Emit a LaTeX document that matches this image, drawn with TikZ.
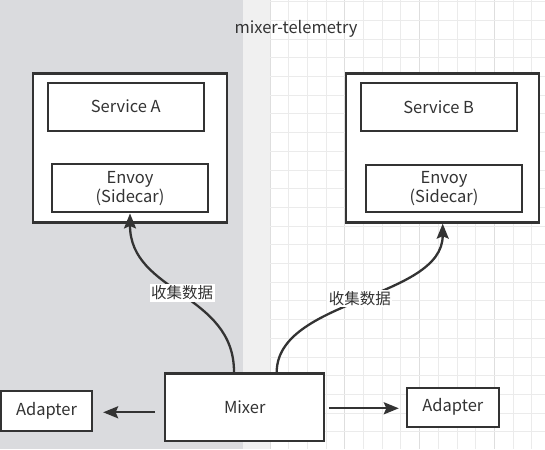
\documentclass[tikz,border=0pt]{standalone}
\usepackage{fontspec}
\setmainfont{Noto Sans CJK SC}
\usetikzlibrary{arrows.meta}
\definecolor{ink}{HTML}{333333}
\definecolor{grayzone}{HTML}{DADBDE}
\definecolor{strip}{HTML}{F0F0F0}
\definecolor{gridminor}{HTML}{EBEBEB}
\definecolor{gridmajor}{HTML}{DEDEDE}
\tikzset{
  box/.style={draw=ink, line width=2.3pt, fill=white, rectangle, inner sep=0pt, text=ink, font=\fontsize{16.5}{19}\selectfont, align=center},
  arr/.style={draw=ink, line width=2.3pt, -{Stealth[length=15pt,width=12pt,inset=2.5pt]}},
  lbl/.style={fill=white, text=ink, inner sep=1.5pt, font=\fontsize{15.5}{17}\selectfont}
}
\begin{document}
\begin{tikzpicture}[x=1pt,y=-1pt]
\useasboundingbox (0,0) rectangle (545,449);
% backgrounds
\fill[white] (0,0) rectangle (545,449);
\fill[grayzone] (0,0) rectangle (243,449);
\fill[strip] (243,0) rectangle (270,449);
\foreach \i in {0,...,15} {
  \pgfmathsetmacro{\gx}{270+18.7*\i}
  \pgfmathtruncatemacro{\m}{mod(\i,4)}
  \ifnum\m=0 \draw[gridmajor, line width=1pt] (\gx,0) -- (\gx,449);
  \else \draw[gridminor, line width=1pt] (\gx,0) -- (\gx,449); \fi
}
\foreach \j in {0,...,24} {
  \pgfmathsetmacro{\gy}{1.7+18.7*\j}
  \draw[gridminor, line width=1pt] (270,\gy) -- (545,\gy);
}
\node[text=ink, font=\fontsize{16.5}{19}\selectfont] (title) at (296,29) {mixer-telemetry};
% service A
\node[box, minimum width=194pt, minimum height=149pt] (outA) at (130,148) {};
\node[box, minimum width=156pt, minimum height=48pt] (svcA) at (125.8,106.7) {Service A};
\node[box, minimum width=156.5pt, minimum height=48pt] (envA) at (130,188.3) {Envoy\\(Sidecar)};
% service B
\node[box, minimum width=193pt, minimum height=149pt] (outB) at (442.7,148) {};
\node[box, minimum width=156pt, minimum height=47.4pt] (svcB) at (438.7,107) {Service B};
\node[box, minimum width=156.5pt, minimum height=47.3pt] (envB) at (444,188.6) {Envoy\\(Sidecar)};
% mixer and adapters
\node[box, minimum width=159pt, minimum height=67.7pt] (mixer) at (244.7,407.2) {Mixer};
\node[box, minimum width=91pt, minimum height=39.7pt] (adL) at (46.5,410.8) {Adapter};
\node[box, minimum width=92.3pt, minimum height=39pt] (adR) at (452.8,407.2) {Adapter};
% connectors
\draw[arr, shorten <=9pt, shorten >=10pt] (mixer.west |- 0,412.3) -- (adL.east |- 0,412.3);
\draw[arr, shorten <=3.5pt, shorten >=6.7pt] (mixer.east |- 0,408.3) -- (adR.west |- 0,408.3);
\draw[arr] ([xshift=-10.7pt]mixer.north) .. controls (234.3,293) and (130,293) .. (envA.south)
  node[lbl, pos=0.5] (l1) {收集数据};
\draw[arr] ([xshift=32pt]mixer.north) .. controls (277,299) and (442.7,299) .. (outB.south)
  node[lbl, pos=0.5] (l2) {收集数据};
\end{tikzpicture}
\end{document}
